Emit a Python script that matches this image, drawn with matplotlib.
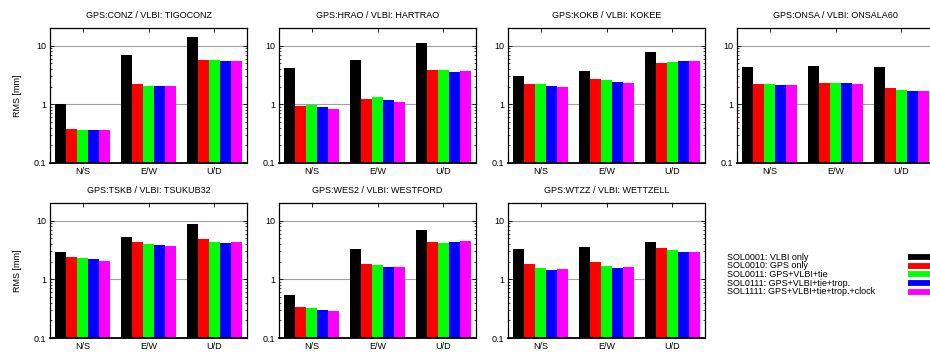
import matplotlib
matplotlib.use("Agg")
import matplotlib.pyplot as plt
import numpy as np

plt.rcParams['font.family'] = ['Liberation Sans', 'DejaVu Sans']
plt.rcParams['font.size'] = 6.5

components = ['N/S', 'E/W', 'U/D']
solutions = ['SOL0001: VLBI only', 'SOL0010: GPS only', 'SOL0011: GPS+VLBI+tie',
             'SOL0111: GPS+VLBI+tie+trop.', 'SOL1111: GPS+VLBI+tie+trop.+clock']
colors = ['#000000', '#ff0000', '#00ff00', '#0000ff', '#ff00ff']

titles = ['GPS:CONZ / VLBI: TIGOCONZ', 'GPS:HRAO / VLBI: HARTRAO', 'GPS:KOKB / VLBI: KOKEE',
          'GPS:ONSA / VLBI: ONSALA60', 'GPS:TSKB / VLBI: TSUKUB32', 'GPS:WES2 / VLBI: WESTFORD',
          'GPS:WTZZ / VLBI: WETTZELL']

# rows: N/S, E/W, U/D ; columns: SOL0001 .. SOL1111
conz = [[1.03, 0.375, 0.36, 0.36, 0.36],
        [6.84, 2.19, 2.03, 2.03, 2.03],
        [13.9, 5.62, 5.62, 5.41, 5.41]]
hrao = [[4.14, 0.92, 0.96, 0.89, 0.82],
        [5.68, 1.22, 1.32, 1.17, 1.08],
        [11.1, 3.83, 3.83, 3.54, 3.68]]
kokb = [[3.0, 2.19, 2.19, 2.03, 1.95],
        [3.65, 2.67, 2.57, 2.37, 2.28],
        [7.7, 5.0, 5.2, 5.41, 5.41]]
onsa = [[4.41, 2.18, 2.18, 2.1, 2.1],
        [4.58, 2.27, 2.27, 2.27, 2.18],
        [4.41, 1.87, 1.73, 1.66, 1.66]]
tskb = [[2.94, 2.42, 2.33, 2.24, 2.07],
        [5.29, 4.35, 4.02, 3.87, 3.72],
        [8.78, 4.89, 4.35, 4.18, 4.35]]
wes2 = [[0.548, 0.342, 0.329, 0.304, 0.292],
        [3.33, 1.85, 1.78, 1.64, 1.64],
        [7.03, 4.39, 4.22, 4.39, 4.56]]
wtzz = [[3.29, 1.82, 1.56, 1.44, 1.5],
        [3.56, 1.97, 1.69, 1.56, 1.62],
        [4.33, 3.42, 3.16, 2.92, 2.92]]
stations = [conz, hrao, kokb, onsa, tskb, wes2, wtzz]

W, H = 930, 356
fig = plt.figure(figsize=(W / 100, H / 100), dpi=100)

# panel placement in pixels
col_left = [50, 279, 508, 737]
row_top = [28, 203]
aw, ah = 197, 135

x = np.arange(len(components))
bw = 1 / 6
for i, (data, title) in enumerate(zip(stations, titles)):
    r, c = divmod(i, 4)
    ax = fig.add_axes([col_left[c] / W, 1 - (row_top[r] + ah) / H, aw / W, ah / H])
    vals = np.array(data)
    for k in range(len(solutions)):
        ax.bar(x + (k - 2) * bw, vals[:, k], width=bw, color=colors[k], zorder=2)
    ax.set_yscale('log')
    ax.set_ylim(0.1, 20)
    ax.set_xlim(-0.5, 2.5)
    ax.set_xticks(x)
    ax.set_xticklabels(components)
    ax.set_yticks([0.1, 1, 10])
    ax.set_yticklabels(['0.1', '1', '10'])
    ax.tick_params(which='both', direction='in', top=True, right=True, labelsize=6.5, pad=3)
    ax.tick_params(which='major', length=3, width=0.6)
    ax.tick_params(which='minor', length=1.5, width=0.5)
    ax.tick_params(axis='x', which='minor', bottom=False, top=False)
    ax.yaxis.grid(True, which='major', color='#a0a0a0', lw=0.8, zorder=0)
    for s in ax.spines.values():
        s.set_linewidth(0.9)
    ax.spines['bottom'].set_linewidth(1.3)
    ax.set_title(title, fontsize=6.5, pad=7)
    if c == 0:
        ax.set_ylabel('RMS [mm]', fontsize=6.5, labelpad=8)

# legend in the empty eighth slot: text on the left, colour sample on the right
lax = fig.add_axes([700 / W, 1 - 300 / H, 230 / W, 50 / H])
lax.set_xlim(700, 930)
lax.set_ylim(300, 250)
lax.axis('off')
for k, (lab, col) in enumerate(zip(solutions, colors)):
    yy = 257 + k * 8.7
    lax.text(727, yy, lab, va='center', ha='left', fontsize=6.5)
    lax.plot([908, 930], [yy, yy], color=col, lw=4.2, solid_capstyle='butt', clip_on=False)

fig.savefig('out.png', dpi=100)
